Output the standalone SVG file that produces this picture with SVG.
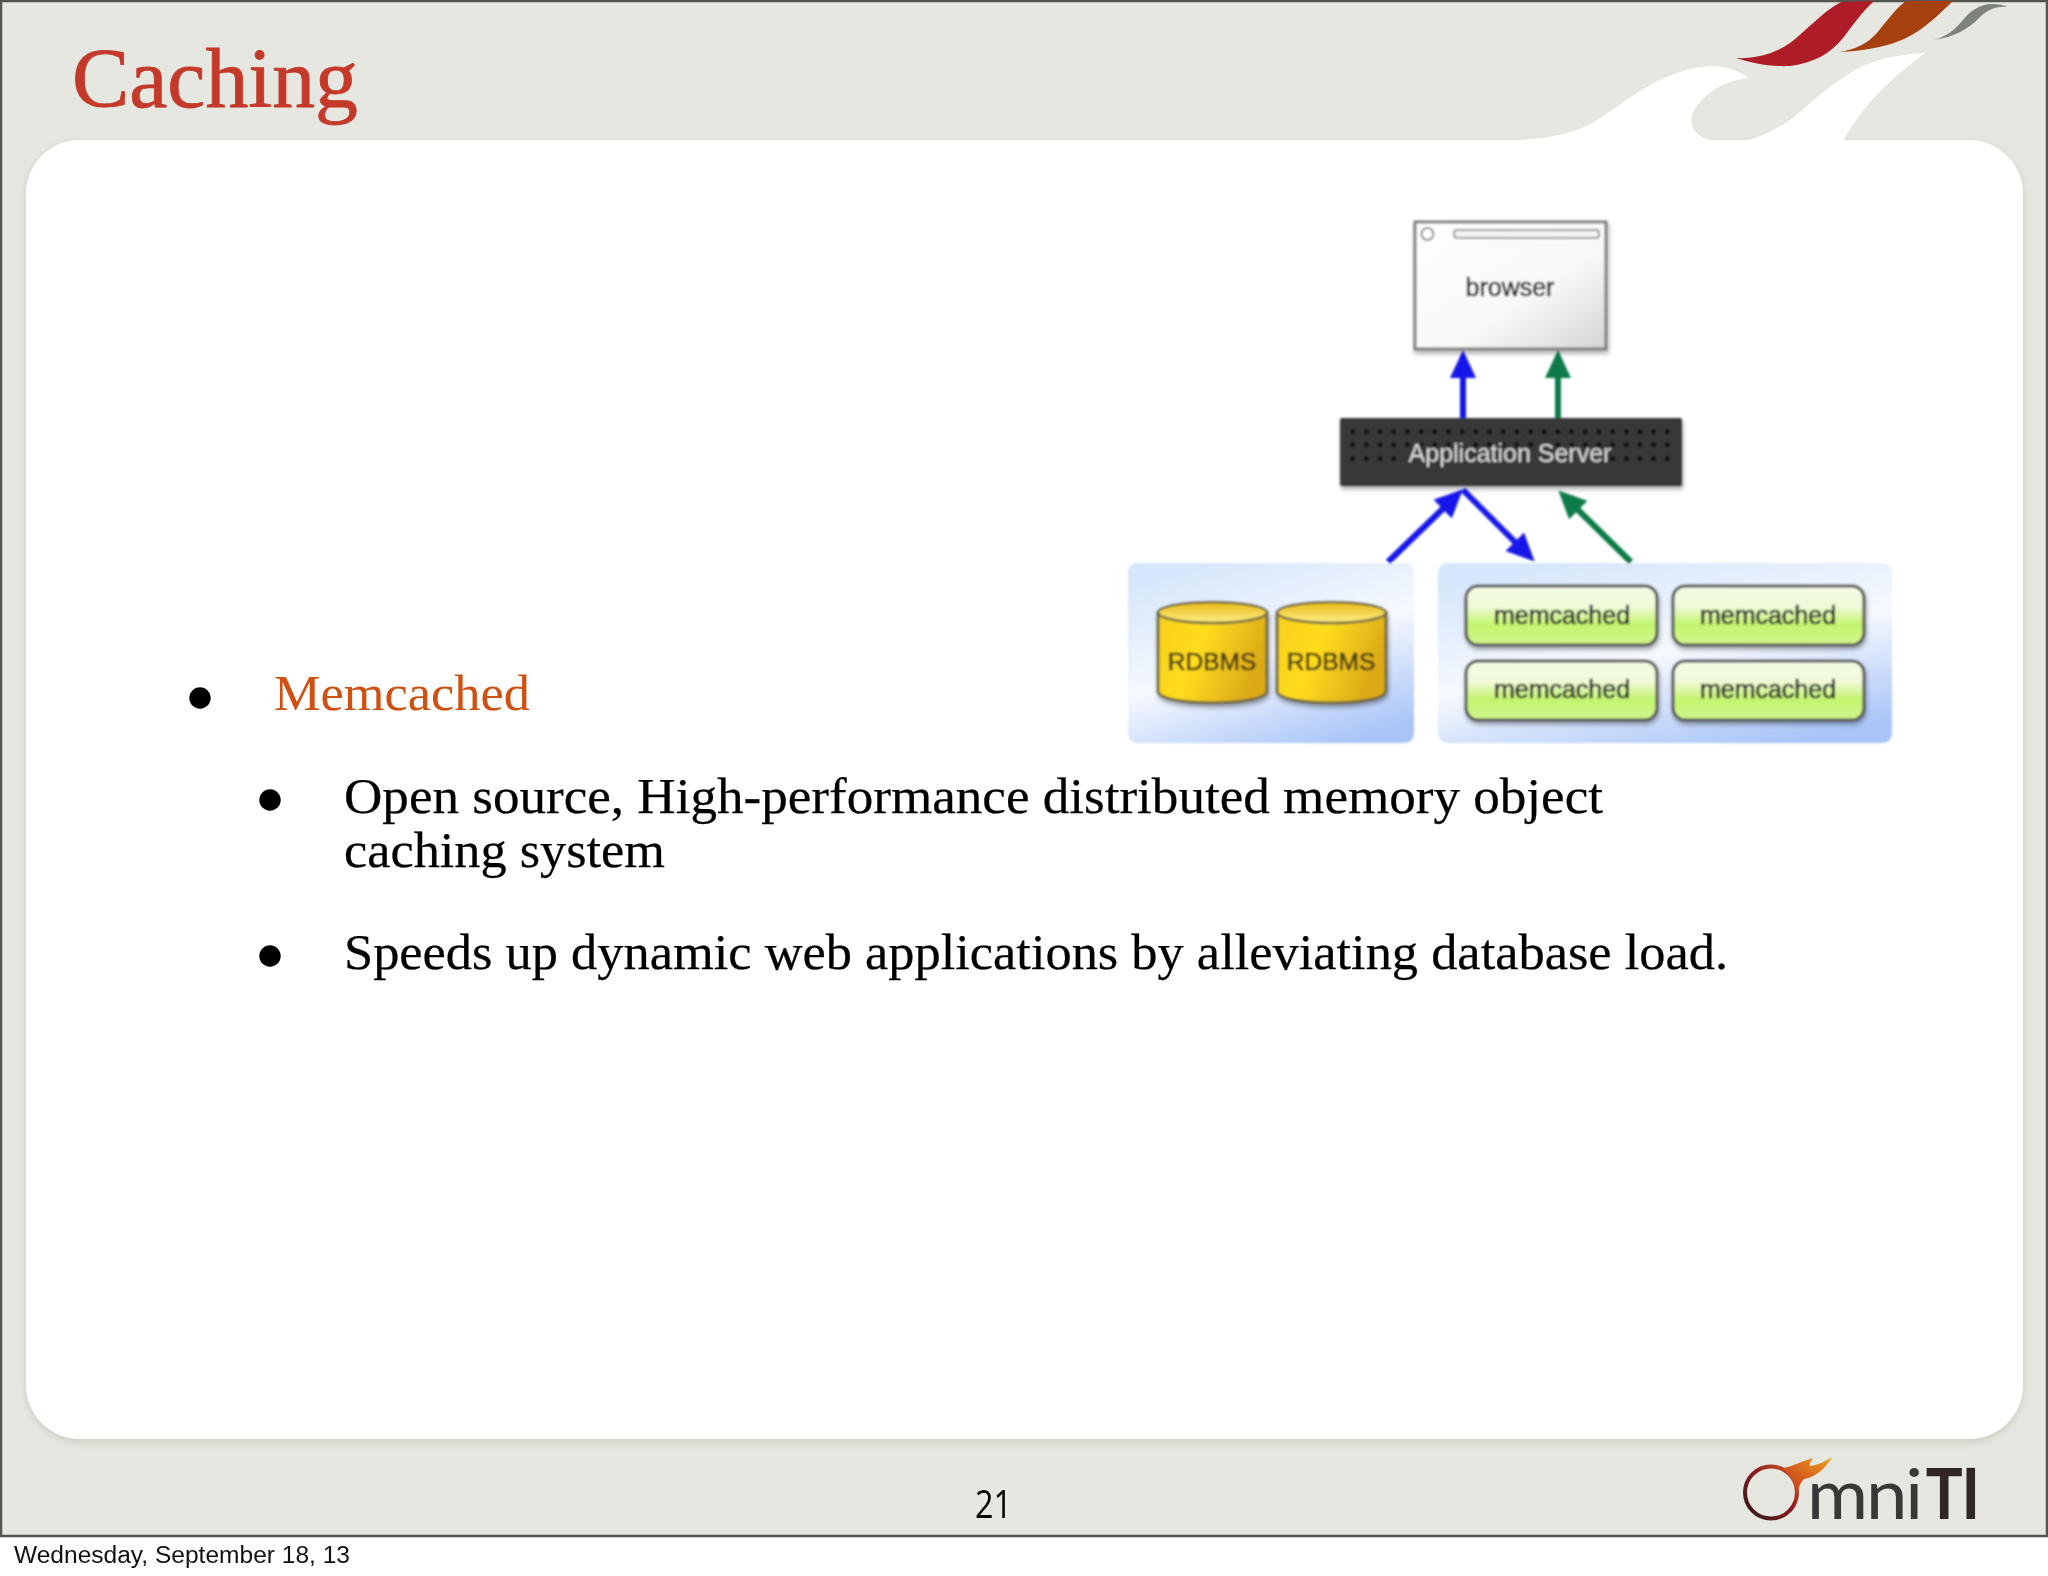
<svg xmlns="http://www.w3.org/2000/svg" width="2048" height="1576" viewBox="0 0 2048 1576">
<style>
.sans{font-family:"Liberation Sans",Arial,sans-serif}
.serif{font-family:"Liberation Serif","Times New Roman",serif}
.body{font-size:51px;fill:#000;stroke:#000;stroke-width:0.25}
.lbl{font-size:25px;fill:#262626;stroke:#262626;stroke-width:0.6;text-anchor:middle}
.rd{font-size:24.5px;fill:#4a3c14;stroke:#4a3c14;stroke-width:0.7}
.mc{fill:url(#green);stroke:#555;stroke-width:3;filter:url(#sh)}
.panel{fill:url(#blue)}
.cyl{fill:url(#yellow);stroke:#6e6840;stroke-width:3;filter:url(#sh)}
.cyltop{fill:url(#yellowtop);stroke:#6e6840;stroke-width:2.5}
.c{fill:none;stroke-width:6}
.bullet{fill:#000}
.dotrow{fill:none;stroke:#0a0a0a;stroke-width:5;stroke-linecap:round;stroke-dasharray:0 13.68}
</style>
<defs>
<linearGradient id="blue" x1="0.25" y1="0" x2="0.75" y2="1"><stop offset="0" stop-color="#d6e6fb"/><stop offset="0.5" stop-color="#f6f9fe"/><stop offset="1" stop-color="#a9c5f8"/></linearGradient>
<linearGradient id="green" x1="0" y1="0" x2="0" y2="1"><stop offset="0" stop-color="#f4fbe6"/><stop offset="0.35" stop-color="#f0fad8"/><stop offset="0.65" stop-color="#c3f56f"/><stop offset="1" stop-color="#d2f48e"/></linearGradient>
<linearGradient id="yellow" x1="0" y1="0" x2="1" y2="0.35"><stop offset="0" stop-color="#f6cf1c"/><stop offset="0.45" stop-color="#ffdc1e"/><stop offset="1" stop-color="#dcaa18"/></linearGradient>
<linearGradient id="yellowtop" x1="0" y1="0" x2="0" y2="1"><stop offset="0" stop-color="#e8b810"/><stop offset="1" stop-color="#fff08a"/></linearGradient>
<linearGradient id="win" x1="0" y1="0" x2="1" y2="1"><stop offset="0" stop-color="#fff"/><stop offset="0.6" stop-color="#f8f8f8"/><stop offset="1" stop-color="#d4d4d4"/></linearGradient>
<linearGradient id="ring" x1="0" y1="1" x2="1" y2="0"><stop offset="0" stop-color="#2a1a1a"/><stop offset="0.55" stop-color="#8c1c22"/><stop offset="1" stop-color="#d4601c"/></linearGradient>
<linearGradient id="flame" x1="0" y1="1" x2="1" y2="0"><stop offset="0" stop-color="#c02c1e"/><stop offset="1" stop-color="#eda21c"/></linearGradient>
<filter id="sh" x="-10%" y="-10%" width="125%" height="130%"><feDropShadow dx="1" dy="3" stdDeviation="2" flood-color="#000" flood-opacity="0.35"/></filter>
<filter id="soft" x="-2%" y="-2%" width="104%" height="104%"><feGaussianBlur stdDeviation="0.8"/></filter>
<filter id="cardshadow" x="-2%" y="-2%" width="104%" height="104%"><feDropShadow dx="0" dy="3" stdDeviation="4" flood-color="#8c8c78" flood-opacity="0.3"/></filter>
<marker id="hb" markerUnits="userSpaceOnUse" markerWidth="30" markerHeight="28" refX="13" refY="13" orient="auto"><path d="M0,0L28,13L0,26Z" fill="#1212ea"/></marker>
<marker id="hg" markerUnits="userSpaceOnUse" markerWidth="30" markerHeight="28" refX="13" refY="13" orient="auto"><path d="M0,0L28,13L0,26Z" fill="#0a7a48"/></marker>
</defs>

<g id="slide">
<rect width="2048" height="1576" fill="#fff"/>
<rect x="1" y="1" width="2046" height="1535" fill="#e6e7e0" stroke="#55554f" stroke-width="2.500"/>
<rect id="card" x="26" y="140" width="1997" height="1299" rx="54" ry="54" fill="#fff" filter="url(#cardshadow)"/>
<path id="wave" fill="#fff" d="M1490,141C1530,140 1565,138 1590,124C1610,113 1630,96 1650,85C1672,73 1695,66 1715,66C1730,67 1740,72 1749,78C1730,80 1712,88 1702,100C1692,110 1689,120 1693,128C1697,136 1705,140 1720,141L1745,141C1765,136 1785,125 1800,112C1815,98 1835,82 1855,70C1875,59 1900,54 1925,53C1905,68 1885,85 1870,102C1860,114 1850,128 1843,141Z"/>
<path id="flame-red" fill="#ae1c28" d="M1736,58C1755,59 1775,54 1790,43C1805,32 1822,12 1841,2L1874,1C1862,12 1853,25 1843,38C1832,52 1815,63 1790,66C1770,67 1752,63 1736,58Z"/>
<path id="flame-orange" fill="#a6400e" d="M1839,52C1855,50 1868,43 1877,33C1886,22 1895,9 1906,1L1953,1C1942,11 1930,24 1915,33C1895,46 1865,51 1839,52Z"/>
<path id="flame-grey" fill="#7e837a" d="M1934,40C1945,37 1955,30 1963,20C1970,11 1980,4 1992,4C1998,4 2004,5 2008,7C1998,6 1988,9 1980,17C1970,28 1955,37 1934,40Z"/>
</g>

<text id="title" class="serif" x="72" y="107" font-size="84" fill="#c5392a" stroke="#c5392a" stroke-width="0.8" textLength="286" lengthAdjust="spacingAndGlyphs">Caching</text>

<g id="diagram" filter="url(#soft)">
<g id="panel-db"><rect class="panel" x="1128" y="563" width="286" height="180" rx="9"/></g>
<g id="panel-cache"><rect class="panel" x="1438" y="563" width="454" height="180" rx="9"/></g>
<g id="connectors">
<path class="c" stroke="#1212ea" marker-end="url(#hb)" d="M1463,418V365"/>
<path class="c" stroke="#0a7a48" marker-end="url(#hg)" d="M1558,418V365"/>
<path class="c" stroke="#1212ea" marker-end="url(#hb)" d="M1388,562L1452,500"/>
<path class="c" stroke="#1212ea" marker-end="url(#hb)" d="M1463,490L1524,551"/>
<path class="c" stroke="#0a7a48" marker-end="url(#hg)" d="M1631,562L1569,501"/>
</g>
<g id="browser">
<rect x="1415" y="222" width="191" height="127" fill="url(#win)" stroke="#7d7d7d" stroke-width="3" filter="url(#sh)"/>
<ellipse cx="1427.5" cy="234" rx="6" ry="6" fill="#fff" stroke="#888" stroke-width="2"/>
<rect x="1454" y="230" width="145" height="8" rx="3" fill="#f4f4f4" stroke="#999" stroke-width="2"/>
<text class="sans lbl" x="1510" y="296">browser</text>
</g>
<g id="app-server">
<rect x="1340" y="418" width="342" height="68" rx="2" fill="#393939" filter="url(#sh)"/>
<path class="dotrow" d="M1352.7,431.7H1670"/>
<path class="dotrow" d="M1352.7,444.7H1670"/>
<path class="dotrow" d="M1352.7,458.700H1400"/>
<path class="dotrow" d="M1612.600,458.700H1670"/>
<text class="sans lbl" x="1510" y="462" style="fill:#dcdcdc;stroke:#393939;stroke-width:3.500;paint-order:stroke">Application Server</text>
</g>
<g id="rdbms-1">
<path class="cyl" d="M1158,612.500V691C1158,707 1267,707 1267,691V612.500Z"/>
<ellipse class="cyltop" cx="1212.500" cy="612.500" rx="54.500" ry="10.500"/>
<text class="sans lbl rd" x="1212" y="670">RDBMS</text>
</g>
<g id="rdbms-2">
<path class="cyl" d="M1277,612.500V691C1277,707 1386,707 1386,691V612.500Z"/>
<ellipse class="cyltop" cx="1331.500" cy="612.500" rx="54.500" ry="10.500"/>
<text class="sans lbl rd" x="1331" y="670">RDBMS</text>
</g>
<g id="memcached-1"><rect class="mc" x="1466" y="586" width="191" height="59" rx="12"/><text class="sans lbl" x="1562" y="624">memcached</text></g>
<g id="memcached-2"><rect class="mc" x="1673" y="586" width="191" height="59" rx="12"/><text class="sans lbl" x="1768" y="624">memcached</text></g>
<g id="memcached-3"><rect class="mc" x="1466" y="661" width="191" height="59" rx="12"/><text class="sans lbl" x="1562" y="698">memcached</text></g>
<g id="memcached-4"><rect class="mc" x="1673" y="661" width="191" height="59" rx="12"/><text class="sans lbl" x="1768" y="698">memcached</text></g>
</g>

<g id="bullets">
<circle class="bullet" cx="200" cy="698" r="10.700"/>
<text class="serif" x="274" y="710" font-size="50" fill="#cf5010" textLength="256" lengthAdjust="spacingAndGlyphs">Memcached</text>
<circle class="bullet" cx="270" cy="800" r="10.700"/>
<text class="serif body" x="344" y="813" textLength="1259" lengthAdjust="spacingAndGlyphs">Open source, High-performance distributed memory object</text>
<text class="serif body" x="344" y="867" textLength="321" lengthAdjust="spacingAndGlyphs">caching system</text>
<circle class="bullet" cx="270" cy="956" r="10.700"/>
<text class="serif body" x="344" y="969" textLength="1384" lengthAdjust="spacingAndGlyphs">Speeds up dynamic web applications by alleviating database load.</text>
</g>

<text id="page" x="975" y="1518" font-family="'Open Sans','Liberation Sans',sans-serif" font-size="39" fill="#000" textLength="37" lengthAdjust="spacingAndGlyphs">21</text>

<g id="logo">
<circle cx="1771" cy="1492.500" r="26" fill="none" stroke="url(#ring)" stroke-width="4"/>
<path fill="url(#flame)" d="M1783,1468C1794,1466 1805,1460 1813,1458C1811,1461 1809,1464 1810,1466C1818,1465 1826,1461 1832,1457C1826,1468 1816,1477 1804,1479C1799,1484 1798,1490 1798,1496C1795,1484 1791,1474 1783,1468Z"/>
<text x="1807" y="1519" font-family="Lato,'Liberation Sans',sans-serif" font-size="70" letter-spacing="-2" fill="#383838" textLength="114" lengthAdjust="spacingAndGlyphs">mni</text>
<text x="1926" y="1519" class="sans" font-weight="700" font-size="75" fill="#2e2723" textLength="53" lengthAdjust="spacingAndGlyphs">TI</text>
</g>

<text id="date" class="sans" x="14" y="1563" font-size="23.500" fill="#111" textLength="336" lengthAdjust="spacingAndGlyphs">Wednesday, September 18, 13</text>
</svg>
